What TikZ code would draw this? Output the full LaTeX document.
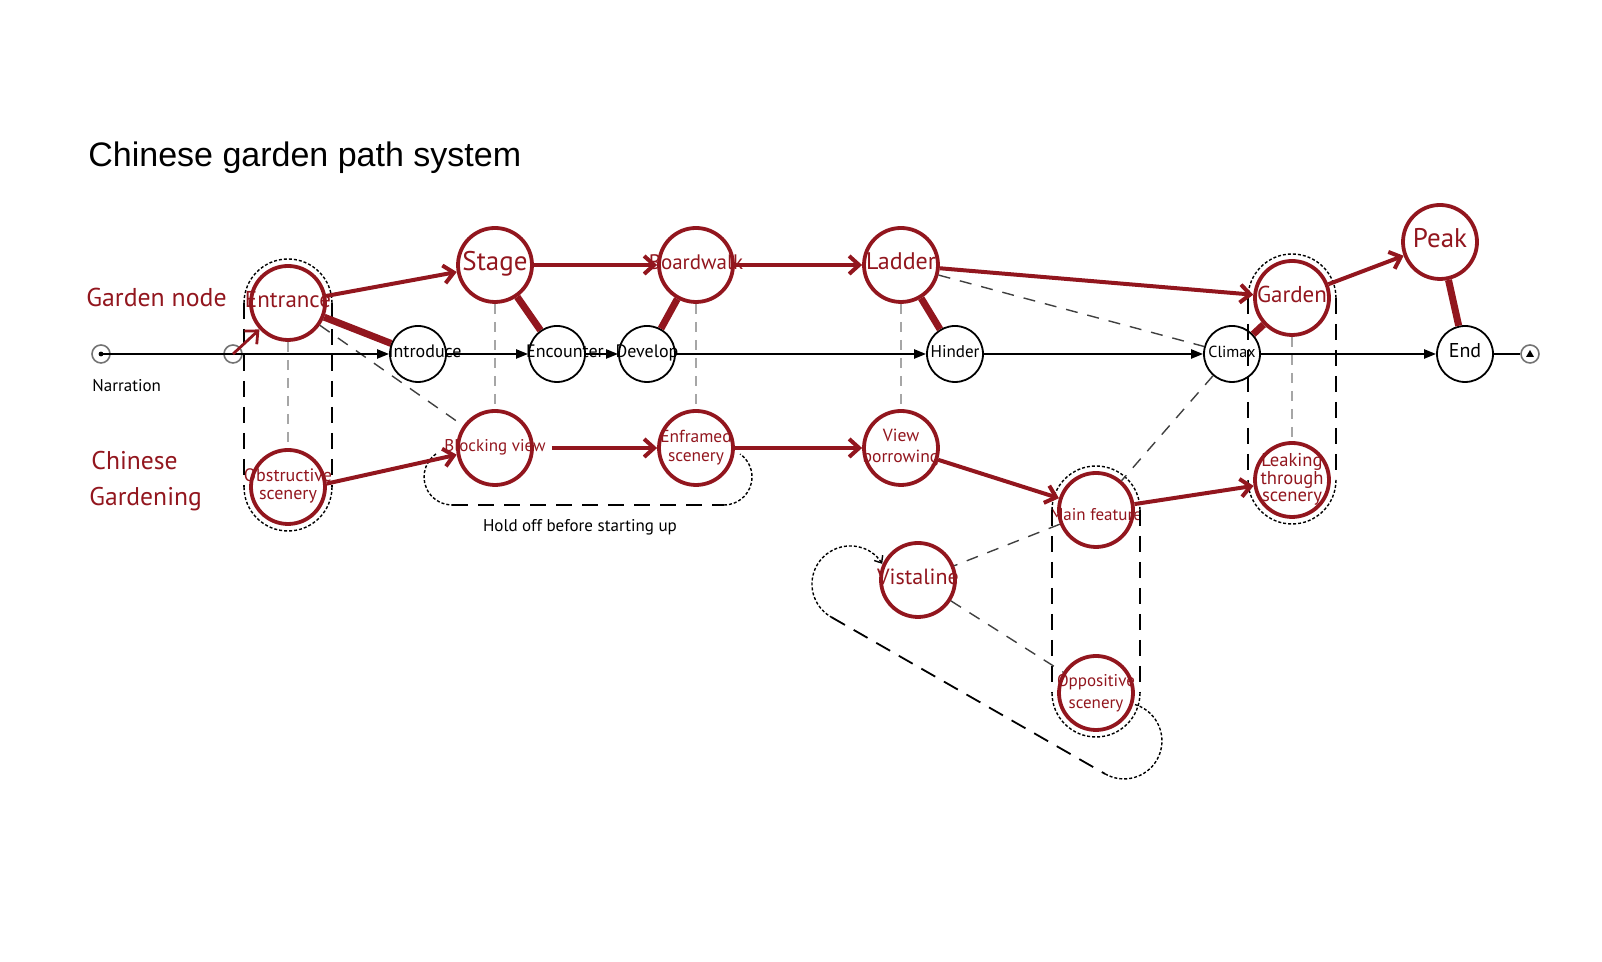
\documentclass[tikz,border=0pt]{standalone}
\usepackage{fontspec}
\setmainfont{PT Sans}
\newfontfamily\titlefont{Liberation Sans}
\usetikzlibrary{arrows.meta}
\definecolor{gred}{RGB}{146,22,30}
\newcommand{\ctext}[1]{\makebox[0pt]{\begin{tabular}{@{}c@{}}#1\end{tabular}}}
\tikzset{fs/.style={font=\fontsize{#1}{#1}\selectfont}}
\tikzset{fsl/.style 2 args={font=\fontsize{#1}{#2}\selectfont}}
\tikzset{gnode/.style={draw=gred,circle,line width=1.9pt,text=gred,inner sep=0pt,minimum size=37pt}}
\tikzset{nnode/.style={draw,circle,line width=0.9pt,inner sep=0pt,minimum size=28pt}}
\tikzset{term/.style={draw=black!55,circle,line width=0.8pt,inner sep=0pt,minimum size=9pt}}
\tikzset{narr/.style={line width=1.1pt,-{Triangle[length=6pt,width=4.5pt]}}}
\tikzset{garrow/.style={gred,line width=2pt,-{Straight Barb[length=5pt,width=9pt]}}}
\tikzset{gbar/.style={gred,line width=3.5pt}}
\tikzset{vline/.style={black!35,line width=0.6pt,dash pattern=on 5pt off 4pt}}
\tikzset{dline/.style={black!75,line width=0.7pt,dash pattern=on 6pt off 5pt}}
\tikzset{longdash/.style={black,line width=0.9pt,dash pattern=on 8pt off 5pt}}
\tikzset{dotarc/.style={black,line width=0.7pt,dash pattern=on 1.5pt off 1pt}}

\begin{document}
\begin{tikzpicture}[x=0.5pt,y=0.5pt]
    \useasboundingbox (0,0) rectangle (1602,962);

    % labels
    \node[anchor=base west,inner sep=0pt,font=\titlefont\fontsize{17}{17}\selectfont] (title) at (88,795) {Chinese garden path system};
    \node[anchor=base west,inner sep=0pt,text=gred,fs=12.9] (gnlabel) at (86,655) {Garden node};
    \node[anchor=base west,inner sep=0pt,text=gred,fs=12.8] (cglabel) at (91,492) {Chinese};
    \node[anchor=base west,inner sep=0pt,text=gred,fs=12.8] (cglabel2) at (89,456) {Gardening};
    \node[anchor=base west,inner sep=0pt,fs=8.5] (narlabel) at (92,570) {Narration};
    \node[fs=8.5] (holdoff) at (580,435) {Hold off before starting up};

    % narration nodes
    \node[term] (s0) at (101,608) {};
    \node[term] (s1) at (233,608) {};
    \node[nnode,fs=9] (intro) at (418,608) {\ctext{\hspace{7pt}Introduce}};
    \node[nnode,fs=9] (enc) at (557,608) {\ctext{\hspace{8pt}Encounter}};
    \node[nnode,fs=9] (dev) at (647,608) {\ctext{Develop}};
    \node[nnode,fs=8.5] (hin) at (955,608) {\ctext{Hinder}};
    \node[nnode,fs=8] (cli) at (1232,608) {\ctext{Climax}};
    \node[nnode,fs=10] (endn) at (1465,608) {\ctext{End}};
    \node[term] (e1) at (1530,608) {};
    \fill (s0.center) circle (1.2pt);
    \fill (e1.center) ++(-4,-3) -- ++(8,0) -- ++(-4,7) -- cycle;

    % garden nodes
    \node[gnode,fs=11.5] (ent) at (288,659) {\ctext{Entrance}};
    \node[gnode,fsl={9}{9.2}] (obs) at (288,475) {\ctext{Obstructive\\scenery}};
    \node[gnode,fs=13.5] (stage) at (495,697) {\ctext{Stage}};
    \node[gnode,fs=8.5] (bv) at (495,514) {\ctext{Blocking view}};
    \node[gnode,fs=10.5] (bw) at (696,697) {\ctext{Boardwalk}};
    \node[gnode,fsl={8.7}{9.7}] (ef) at (696,514) {\ctext{Enframed\\scenery}};
    \node[gnode,fs=12] (lad) at (901,697) {\ctext{Ladder}};
    \node[gnode,fsl={8.8}{10.2}] (vb) at (901,514) {\ctext{\raisebox{2.5pt}{\begin{tabular}{@{}c@{}}View\\borrowing\end{tabular}}}};
    \node[gnode,fs=11.5] (gar) at (1292,664) {\ctext{Garden}};
    \node[gnode,fsl={9.3}{8.2}] (leak) at (1292,482) {\ctext{Leaking\\through\\scenery}};
    \node[gnode,fs=13.5] (peak) at (1440,720) {\ctext{Peak}};
    \node[gnode,fs=8.5] (mf) at (1096,452) {\ctext{\raisebox{-5pt}{Main feature}}};
    \node[gnode,fs=11] (vis) at (918,382) {\ctext{Vistaline}};
    \node[gnode,fsl={8.5}{11.2}] (opp) at (1096,269) {\ctext{Oppositive\\scenery}};

    % groups
    \foreach \t/\b in {ent/obs,gar/leak,mf/opp}{
      \draw[dotarc] (\t.center) ++(-44,0) arc[start angle=180,end angle=0,radius=44];
      \draw[dotarc] (\b.center) ++(44,0) arc[start angle=0,end angle=-180,radius=44];
      \draw[longdash] ([xshift=-22pt]\t.center) -- ([xshift=-22pt]\b.center);
      \draw[longdash] ([xshift=22pt]\t.center) -- ([xshift=22pt]\b.center);
    }
    \draw[dotarc] (436,508) arc[start angle=125,end angle=270,radius=28];
    \draw[longdash] (452,457) -- (724,457);
    \draw[dotarc] (724,457) arc[start angle=-90,end angle=55,radius=28];
    \draw[dotarc,{Straight Barb[length=3pt,width=5pt]}-] (882.2,398.1) arc[start angle=32,end angle=240.2,radius=38];
    \draw[longdash] (831.1,345) -- (1105.1,188.1);
    \draw[dotarc] (1105.1,188.1) arc[start angle=-119.8,end angle=75,radius=38];

    % dashed links
    \foreach \a/\b in {ent/obs,stage/bv,bw/ef,lad/vb,gar/leak}
      \draw[vline] (\a) -- (\b);
    \foreach \a/\b in {ent/bv,lad/cli,cli/mf,mf/vis,vis/opp}
      \draw[dline] (\a) -- (\b);

    % narration line
    \draw[line width=1.1pt] (s0.center) -- (s1.center);
    \foreach \a/\b in {s1.center/intro,intro/enc,enc/dev,dev/hin,hin/cli,cli/endn}
      \draw[narr] (\a) -- (\b);
    \draw[line width=1.1pt] (endn) -- (e1);

    % garden path
    \foreach \a/\b in {ent/stage,stage/bw,bw/lad,lad/gar,gar/peak,ef/vb,vb/mf,mf/leak}
      \draw[garrow] (\a) -- (\b);
    \foreach \a/\b in {ent/intro,stage/enc,bw/dev,lad/hin,cli/gar,peak/endn}
      \draw[gbar] (\a) -- (\b);
    \draw[garrow] (obs.5) -- (bv.190);
    \draw[garrow] ([xshift=9pt]bv.east) -- (ef);
    \draw[garrow,line width=1.4pt] (s1.center) -- (ent);
\end{tikzpicture}
\end{document}
